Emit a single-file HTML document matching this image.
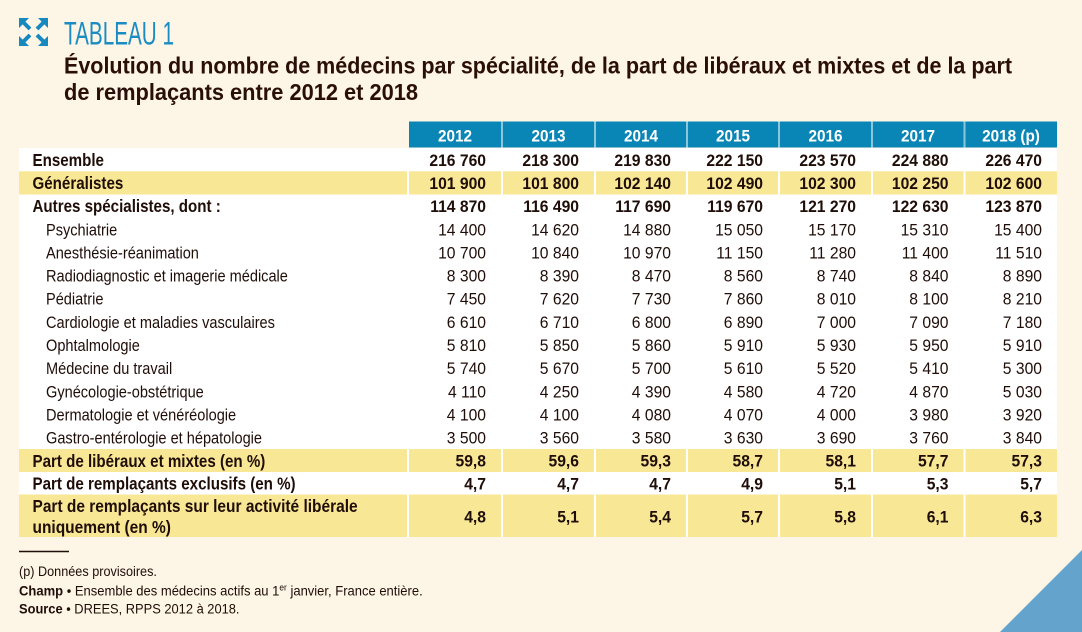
<!DOCTYPE html>
<html><head><meta charset="utf-8"><style>
html,body{margin:0;padding:0;background:#fdf5e5;}
svg{display:block;}
text{font-family:"Liberation Sans",Arial,sans-serif;fill:#1f0d08;}
.b{font-weight:bold;font-size:16.5px;}
.bl{font-weight:bold;font-size:17.2px;}
.r{font-size:16.5px;}
.h{font-weight:bold;font-size:17px;fill:#fff;}
.f{font-size:14px;}
</style></head><body>
<svg width="1082" height="632" viewBox="0 0 1082 632" xmlns="http://www.w3.org/2000/svg">
<rect x="0" y="0" width="1082" height="632" fill="#fdf5e5"/>
<!-- icon -->
<g fill="#1689bf" stroke="#1689bf">
<polygon points="19,18 29,18 19,28" stroke="none"/><line x1="22" y1="21" x2="30" y2="29" stroke-width="4"/>
<polygon points="48,18 38,18 48,28" stroke="none"/><line x1="45" y1="21" x2="37" y2="29" stroke-width="4"/>
<polygon points="19,46 29,46 19,36" stroke="none"/><line x1="22" y1="43" x2="30" y2="35" stroke-width="4"/>
<polygon points="48,46 38,46 48,36" stroke="none"/><line x1="45" y1="43" x2="37" y2="35" stroke-width="4"/>
</g>
<text x="64" y="44.5" style="font-size:32px;fill:#1a8cc4" textLength="110" lengthAdjust="spacingAndGlyphs">TABLEAU 1</text>
<text x="64" y="73.5" style="font-size:23.5px;font-weight:bold;fill:#2a0f08" textLength="948" lengthAdjust="spacingAndGlyphs">Évolution du nombre de médecins par spécialité, de la part de libéraux et mixtes et de la part</text>
<text x="64" y="100" style="font-size:23.5px;font-weight:bold;fill:#2a0f08" textLength="354" lengthAdjust="spacingAndGlyphs">de remplaçants entre 2012 et 2018</text>

<!-- header -->
<rect x="409" y="121.5" width="648" height="26" fill="#0a86b6"/>
<g fill="#8cc6dd">
<rect x="501" y="121.5" width="2" height="26"/><rect x="594" y="121.5" width="2" height="26"/><rect x="686" y="121.5" width="2" height="26"/><rect x="778" y="121.5" width="2" height="26"/><rect x="871" y="121.5" width="2" height="26"/><rect x="963.5" y="121.5" width="2" height="26"/>
</g>
<g>
<text class="h" text-anchor="middle" transform="translate(455,141.5) scale(0.9,1)">2012</text>
<text class="h" text-anchor="middle" transform="translate(548.5,141.5) scale(0.9,1)">2013</text>
<text class="h" text-anchor="middle" transform="translate(641,141.5) scale(0.9,1)">2014</text>
<text class="h" text-anchor="middle" transform="translate(733,141.5) scale(0.9,1)">2015</text>
<text class="h" text-anchor="middle" transform="translate(825.5,141.5) scale(0.9,1)">2016</text>
<text class="h" text-anchor="middle" transform="translate(918,141.5) scale(0.9,1)">2017</text>
<text class="h" text-anchor="middle" transform="translate(1011,141.5) scale(0.9,1)">2018 (p)</text>
</g>

<!-- body -->
<rect x="19" y="148" width="1038" height="389" fill="#ffffff"/>
<rect x="19" y="171.3" width="1038" height="23.2" fill="#f8e795"/>
<rect x="19" y="449" width="1038" height="23" fill="#f8e795"/>
<rect x="19" y="494.5" width="1038" height="42.5" fill="#f8e795"/>
<g fill="#ffffff">
<rect x="407" y="148" width="2" height="389"/><rect x="501" y="148" width="2" height="389"/><rect x="594" y="148" width="2" height="389"/><rect x="686" y="148" width="2" height="389"/><rect x="778" y="148" width="2" height="389"/><rect x="871" y="148" width="2" height="389"/><rect x="963.5" y="148" width="2" height="389"/>
</g>

<!-- labels -->
<text class="bl" transform="translate(32.5,166) scale(0.88,1)">Ensemble</text>
<text class="bl" transform="translate(32.5,189) scale(0.88,1)">Généralistes</text>
<text class="bl" transform="translate(32.5,212.2) scale(0.88,1)">Autres spécialistes, dont :</text>
<text class="r" transform="translate(46,235.3) scale(0.883,1)">Psychiatrie</text>
<text class="r" transform="translate(46,258.4) scale(0.883,1)">Anesthésie-réanimation</text>
<text class="r" transform="translate(46,281.5) scale(0.883,1)">Radiodiagnostic et imagerie médicale</text>
<text class="r" transform="translate(46,304.7) scale(0.883,1)">Pédiatrie</text>
<text class="r" transform="translate(46,327.8) scale(0.883,1)">Cardiologie et maladies vasculaires</text>
<text class="r" transform="translate(46,351) scale(0.883,1)">Ophtalmologie</text>
<text class="r" transform="translate(46,374.1) scale(0.883,1)">Médecine du travail</text>
<text class="r" transform="translate(46,397.3) scale(0.883,1)">Gynécologie-obstétrique</text>
<text class="r" transform="translate(46,420.4) scale(0.883,1)">Dermatologie et vénéréologie</text>
<text class="r" transform="translate(46,443.6) scale(0.883,1)">Gastro-entérologie et hépatologie</text>
<text class="bl" transform="translate(32.5,466.8) scale(0.88,1)">Part de libéraux et mixtes (en %)</text>
<text class="bl" transform="translate(32.5,489.6) scale(0.88,1)">Part de remplaçants exclusifs (en %)</text>
<text class="bl" transform="translate(32.5,512) scale(0.9,1)">Part de remplaçants sur leur activité libérale</text>
<text class="bl" transform="translate(32.5,532.8) scale(0.9,1)">uniquement (en %)</text>

<!-- numbers -->
<g text-anchor="end">
<text class="b" transform="translate(486,165.8) scale(0.95,1)">216 760</text>
<text class="b" transform="translate(579,165.8) scale(0.95,1)">218 300</text>
<text class="b" transform="translate(671,165.8) scale(0.95,1)">219 830</text>
<text class="b" transform="translate(763,165.8) scale(0.95,1)">222 150</text>
<text class="b" transform="translate(856,165.8) scale(0.95,1)">223 570</text>
<text class="b" transform="translate(948.5,165.8) scale(0.95,1)">224 880</text>
<text class="b" transform="translate(1042,165.8) scale(0.95,1)">226 470</text>
<text class="b" transform="translate(486,188.9) scale(0.95,1)">101 900</text>
<text class="b" transform="translate(579,188.9) scale(0.95,1)">101 800</text>
<text class="b" transform="translate(671,188.9) scale(0.95,1)">102 140</text>
<text class="b" transform="translate(763,188.9) scale(0.95,1)">102 490</text>
<text class="b" transform="translate(856,188.9) scale(0.95,1)">102 300</text>
<text class="b" transform="translate(948.5,188.9) scale(0.95,1)">102 250</text>
<text class="b" transform="translate(1042,188.9) scale(0.95,1)">102 600</text>
<text class="b" transform="translate(486,212.1) scale(0.95,1)">114 870</text>
<text class="b" transform="translate(579,212.1) scale(0.95,1)">116 490</text>
<text class="b" transform="translate(671,212.1) scale(0.95,1)">117 690</text>
<text class="b" transform="translate(763,212.1) scale(0.95,1)">119 670</text>
<text class="b" transform="translate(856,212.1) scale(0.95,1)">121 270</text>
<text class="b" transform="translate(948.5,212.1) scale(0.95,1)">122 630</text>
<text class="b" transform="translate(1042,212.1) scale(0.95,1)">123 870</text>
<text class="r" transform="translate(486,235.3) scale(0.95,1)">14 400</text>
<text class="r" transform="translate(579,235.3) scale(0.95,1)">14 620</text>
<text class="r" transform="translate(671,235.3) scale(0.95,1)">14 880</text>
<text class="r" transform="translate(763,235.3) scale(0.95,1)">15 050</text>
<text class="r" transform="translate(856,235.3) scale(0.95,1)">15 170</text>
<text class="r" transform="translate(948.5,235.3) scale(0.95,1)">15 310</text>
<text class="r" transform="translate(1042,235.3) scale(0.95,1)">15 400</text>
<text class="r" transform="translate(486,258.4) scale(0.95,1)">10 700</text>
<text class="r" transform="translate(579,258.4) scale(0.95,1)">10 840</text>
<text class="r" transform="translate(671,258.4) scale(0.95,1)">10 970</text>
<text class="r" transform="translate(763,258.4) scale(0.95,1)">11 150</text>
<text class="r" transform="translate(856,258.4) scale(0.95,1)">11 280</text>
<text class="r" transform="translate(948.5,258.4) scale(0.95,1)">11 400</text>
<text class="r" transform="translate(1042,258.4) scale(0.95,1)">11 510</text>
<text class="r" transform="translate(486,281.5) scale(0.95,1)">8 300</text>
<text class="r" transform="translate(579,281.5) scale(0.95,1)">8 390</text>
<text class="r" transform="translate(671,281.5) scale(0.95,1)">8 470</text>
<text class="r" transform="translate(763,281.5) scale(0.95,1)">8 560</text>
<text class="r" transform="translate(856,281.5) scale(0.95,1)">8 740</text>
<text class="r" transform="translate(948.5,281.5) scale(0.95,1)">8 840</text>
<text class="r" transform="translate(1042,281.5) scale(0.95,1)">8 890</text>
<text class="r" transform="translate(486,304.7) scale(0.95,1)">7 450</text>
<text class="r" transform="translate(579,304.7) scale(0.95,1)">7 620</text>
<text class="r" transform="translate(671,304.7) scale(0.95,1)">7 730</text>
<text class="r" transform="translate(763,304.7) scale(0.95,1)">7 860</text>
<text class="r" transform="translate(856,304.7) scale(0.95,1)">8 010</text>
<text class="r" transform="translate(948.5,304.7) scale(0.95,1)">8 100</text>
<text class="r" transform="translate(1042,304.7) scale(0.95,1)">8 210</text>
<text class="r" transform="translate(486,327.8) scale(0.95,1)">6 610</text>
<text class="r" transform="translate(579,327.8) scale(0.95,1)">6 710</text>
<text class="r" transform="translate(671,327.8) scale(0.95,1)">6 800</text>
<text class="r" transform="translate(763,327.8) scale(0.95,1)">6 890</text>
<text class="r" transform="translate(856,327.8) scale(0.95,1)">7 000</text>
<text class="r" transform="translate(948.5,327.8) scale(0.95,1)">7 090</text>
<text class="r" transform="translate(1042,327.8) scale(0.95,1)">7 180</text>
<text class="r" transform="translate(486,351) scale(0.95,1)">5 810</text>
<text class="r" transform="translate(579,351) scale(0.95,1)">5 850</text>
<text class="r" transform="translate(671,351) scale(0.95,1)">5 860</text>
<text class="r" transform="translate(763,351) scale(0.95,1)">5 910</text>
<text class="r" transform="translate(856,351) scale(0.95,1)">5 930</text>
<text class="r" transform="translate(948.5,351) scale(0.95,1)">5 950</text>
<text class="r" transform="translate(1042,351) scale(0.95,1)">5 910</text>
<text class="r" transform="translate(486,374.1) scale(0.95,1)">5 740</text>
<text class="r" transform="translate(579,374.1) scale(0.95,1)">5 670</text>
<text class="r" transform="translate(671,374.1) scale(0.95,1)">5 700</text>
<text class="r" transform="translate(763,374.1) scale(0.95,1)">5 610</text>
<text class="r" transform="translate(856,374.1) scale(0.95,1)">5 520</text>
<text class="r" transform="translate(948.5,374.1) scale(0.95,1)">5 410</text>
<text class="r" transform="translate(1042,374.1) scale(0.95,1)">5 300</text>
<text class="r" transform="translate(486,397.3) scale(0.95,1)">4 110</text>
<text class="r" transform="translate(579,397.3) scale(0.95,1)">4 250</text>
<text class="r" transform="translate(671,397.3) scale(0.95,1)">4 390</text>
<text class="r" transform="translate(763,397.3) scale(0.95,1)">4 580</text>
<text class="r" transform="translate(856,397.3) scale(0.95,1)">4 720</text>
<text class="r" transform="translate(948.5,397.3) scale(0.95,1)">4 870</text>
<text class="r" transform="translate(1042,397.3) scale(0.95,1)">5 030</text>
<text class="r" transform="translate(486,420.4) scale(0.95,1)">4 100</text>
<text class="r" transform="translate(579,420.4) scale(0.95,1)">4 100</text>
<text class="r" transform="translate(671,420.4) scale(0.95,1)">4 080</text>
<text class="r" transform="translate(763,420.4) scale(0.95,1)">4 070</text>
<text class="r" transform="translate(856,420.4) scale(0.95,1)">4 000</text>
<text class="r" transform="translate(948.5,420.4) scale(0.95,1)">3 980</text>
<text class="r" transform="translate(1042,420.4) scale(0.95,1)">3 920</text>
<text class="r" transform="translate(486,443.6) scale(0.95,1)">3 500</text>
<text class="r" transform="translate(579,443.6) scale(0.95,1)">3 560</text>
<text class="r" transform="translate(671,443.6) scale(0.95,1)">3 580</text>
<text class="r" transform="translate(763,443.6) scale(0.95,1)">3 630</text>
<text class="r" transform="translate(856,443.6) scale(0.95,1)">3 690</text>
<text class="r" transform="translate(948.5,443.6) scale(0.95,1)">3 760</text>
<text class="r" transform="translate(1042,443.6) scale(0.95,1)">3 840</text>
<text class="b" transform="translate(486,466.7) scale(0.95,1)">59,8</text>
<text class="b" transform="translate(579,466.7) scale(0.95,1)">59,6</text>
<text class="b" transform="translate(671,466.7) scale(0.95,1)">59,3</text>
<text class="b" transform="translate(763,466.7) scale(0.95,1)">58,7</text>
<text class="b" transform="translate(856,466.7) scale(0.95,1)">58,1</text>
<text class="b" transform="translate(948.5,466.7) scale(0.95,1)">57,7</text>
<text class="b" transform="translate(1042,466.7) scale(0.95,1)">57,3</text>
<text class="b" transform="translate(486,489.5) scale(0.95,1)">4,7</text>
<text class="b" transform="translate(579,489.5) scale(0.95,1)">4,7</text>
<text class="b" transform="translate(671,489.5) scale(0.95,1)">4,7</text>
<text class="b" transform="translate(763,489.5) scale(0.95,1)">4,9</text>
<text class="b" transform="translate(856,489.5) scale(0.95,1)">5,1</text>
<text class="b" transform="translate(948.5,489.5) scale(0.95,1)">5,3</text>
<text class="b" transform="translate(1042,489.5) scale(0.95,1)">5,7</text>
<text class="b" transform="translate(486,522.5) scale(0.95,1)">4,8</text>
<text class="b" transform="translate(579,522.5) scale(0.95,1)">5,1</text>
<text class="b" transform="translate(671,522.5) scale(0.95,1)">5,4</text>
<text class="b" transform="translate(763,522.5) scale(0.95,1)">5,7</text>
<text class="b" transform="translate(856,522.5) scale(0.95,1)">5,8</text>
<text class="b" transform="translate(948.5,522.5) scale(0.95,1)">6,1</text>
<text class="b" transform="translate(1042,522.5) scale(0.95,1)">6,3</text>
</g>

<!-- footnotes -->
<line x1="19" y1="551.5" x2="69" y2="551.5" stroke="#1f0d08" stroke-width="1.5"/>
<text class="f" transform="translate(19,576) scale(0.905,1)">(p) Données provisoires.</text>
<text class="f" transform="translate(19,595.5) scale(0.93,1)"><tspan font-weight="bold">Champ</tspan> • Ensemble des médecins actifs au 1<tspan dy="-5" style="font-size:9px">er</tspan><tspan dy="5"> janvier, France entière.</tspan></text>
<text class="f" transform="translate(19,613.3) scale(0.92,1)"><tspan font-weight="bold">Source</tspan> • DREES, RPPS 2012 à 2018.</text>

<!-- corner triangle -->
<polygon points="1082,550 1082,632 1000,632" fill="#64a4cc"/>
</svg>
</body></html>
